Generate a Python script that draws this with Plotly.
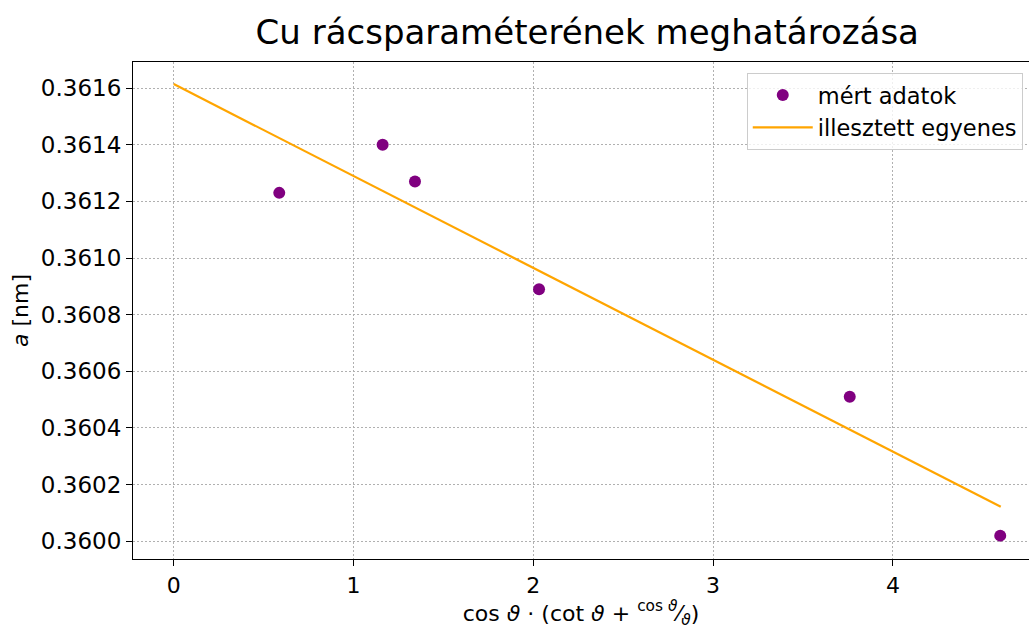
import plotly.graph_objects as go

# measured data
x_meas = [0.587, 1.162, 1.342, 2.032, 3.760, 4.597]
a_meas = [0.36123, 0.36140, 0.36127, 0.36089, 0.36051, 0.36002]

# fitted line endpoints
x_fit = [0.0, 4.60]
a_fit = [0.361614, 0.360122]

x_ticks = [0, 1, 2, 3, 4]
y_ticks = [0.3600, 0.3602, 0.3604, 0.3606, 0.3608, 0.3610, 0.3612, 0.3614, 0.3616]

FONT = "DejaVu Sans"

fig = go.Figure()
fig.add_trace(go.Scatter(
    x=x_meas, y=a_meas, mode="markers", name="mért adatok",
    marker=dict(color="purple", size=12, line=dict(width=0)),
))
fig.add_trace(go.Scatter(
    x=x_fit, y=a_fit, mode="lines", name="illesztett egyenes",
    line=dict(color="orange", width=2.2),
))

fig.update_layout(
    width=1029, height=633,
    margin=dict(l=133, r=0, t=62, b=74),
    paper_bgcolor="white", plot_bgcolor="white",
    font=dict(family=FONT, size=22, color="black"),
    title=dict(text="Cu rácsparaméterének meghatározása", x=0.507, xref="paper",
               xanchor="center", y=1 - 32 / 633, yanchor="middle",
               font=dict(family=FONT, size=34, color="black")),
    showlegend=True,
    legend=dict(x=0.685, y=0.978, xanchor="left", yanchor="top",
                bgcolor="rgba(255,255,255,0.8)", bordercolor="#cccccc", borderwidth=1,
                font=dict(family=FONT, size=22.5), tracegroupgap=0, itemwidth=60),
)

fig.update_xaxes(
    range=[-0.2264, 4.757], tickvals=x_ticks, ticktext=[str(t) for t in x_ticks],
    showline=True, linecolor="black", linewidth=1.2, mirror=True,
    ticks="outside", ticklen=6, tickwidth=1.2, tickcolor="black",
    showgrid=True, gridcolor="#b0b0b0", gridwidth=1, griddash="1.5px,2.5px",
    zeroline=False, tickfont=dict(size=22),
    title=dict(text="cos <i>ϑ</i> · (cot <i>ϑ</i> + <sup>cos <i>ϑ</i></sup>⁄<sub><i>ϑ</i></sub>)",
               font=dict(size=22), standoff=6),
)
fig.update_yaxes(
    range=[0.3599375, 0.361692], tickvals=y_ticks, ticktext=[f"{v:.4f}" for v in y_ticks],
    showline=True, linecolor="black", linewidth=1.2, mirror=False,
    ticks="outside", ticklen=6, tickwidth=1.2, tickcolor="black",
    showgrid=True, gridcolor="#b0b0b0", gridwidth=1, griddash="1.5px,2.5px",
    zeroline=False, tickfont=dict(size=23),
    title=dict(text="<i>a</i> [nm]", font=dict(size=22), standoff=6),
)

fig.write_html("out.html")
